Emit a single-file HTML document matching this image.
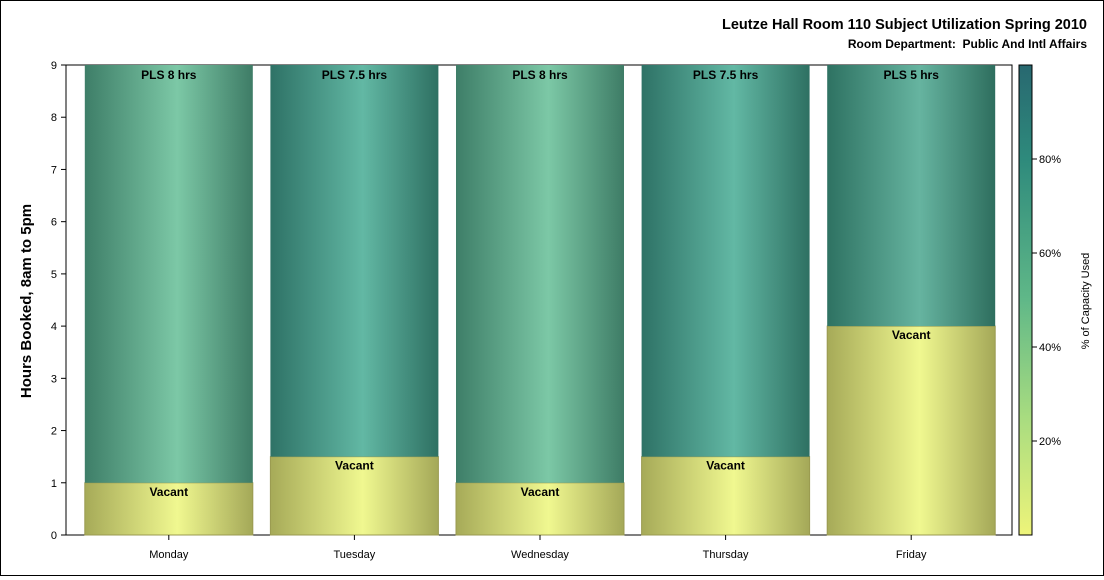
<!DOCTYPE html>
<html><head><meta charset="utf-8"><style>
body{margin:0;background:#fff;font-family:"Liberation Sans",sans-serif}
#wrap{position:relative;width:1102px;height:574px;border:1px solid #000}
</style></head><body>
<div id="wrap">
<svg id="svg" width="1102" height="574" xmlns="http://www.w3.org/2000/svg" font-family="Liberation Sans, sans-serif">
<defs>
<linearGradient id="gy" x1="0" x2="1" y1="0" y2="0"><stop offset="0" stop-color="#a6aa58"/><stop offset="0.55" stop-color="#f0f890"/><stop offset="1" stop-color="#a4a858"/></linearGradient>
<linearGradient id="g0" x1="0" x2="1"><stop offset="0" stop-color="#3e7e68"/><stop offset="0.55" stop-color="#7cc8a6"/><stop offset="1" stop-color="#3e7c66"/></linearGradient>
<linearGradient id="g1" x1="0" x2="1"><stop offset="0" stop-color="#2e7266"/><stop offset="0.55" stop-color="#62b8a4"/><stop offset="1" stop-color="#2e7062"/></linearGradient>
<linearGradient id="g2" x1="0" x2="1"><stop offset="0" stop-color="#2e7262"/><stop offset="0.55" stop-color="#66b4a0"/><stop offset="1" stop-color="#2e6e5e"/></linearGradient>
<linearGradient id="legGrad" x1="0" x2="0" y1="1" y2="0"><stop offset="0" stop-color="#eef47a"/><stop offset="0.25" stop-color="#a8dc80"/><stop offset="0.5" stop-color="#60b888"/><stop offset="0.8" stop-color="#2e8a7c"/><stop offset="1" stop-color="#286870"/></linearGradient>
</defs>
<text x="1086" y="28" text-anchor="end" font-size="14.5" font-weight="bold">Leutze Hall Room 110 Subject Utilization Spring 2010</text>
<text x="1086" y="47" text-anchor="end" font-size="12" font-weight="bold" xml:space="preserve">Room Department:&#160; Public And Intl Affairs</text>
<text transform="translate(30,300) rotate(-90)" text-anchor="middle" font-size="15" font-weight="bold">Hours Booked, 8am to 5pm</text>
<rect x="65" y="64" width="946" height="470" fill="none" stroke="#000"/>
<g id="bars"></g><g id="axes"></g>
<rect x="1018" y="64" width="13" height="470" fill="url(#legGrad)" stroke="#000"/>
<g id="legTicks"></g>
<text transform="translate(1088,300) rotate(-90)" text-anchor="middle" font-size="11">% of Capacity Used</text>
</svg></div>
<script>
const days=["Monday","Tuesday","Wednesday","Thursday","Friday"];
const vacant=[1,1.5,1,1.5,4];
const booked=[8,7.5,8,7.5,5];
const bookedLabels=["PLS 8 hrs","PLS 7.5 hrs","PLS 8 hrs","PLS 7.5 hrs","PLS 5 hrs"];
const yTicks=[0,1,2,3,4,5,6,7,8,9];
const legTicks=[20,40,60,80];
const fills=["url(#g0)","url(#g1)","url(#g0)","url(#g1)","url(#g2)"];
const NS="http://www.w3.org/2000/svg";
const xs=75,xw=928,y0=534,ph=470,ymax=9;
const y=v=>y0-v/ymax*ph;
const band=xw/days.length, bw=168;
const xc=i=>xs+band*(i+0.5);
function mk(t,a,p){const e=document.createElementNS(NS,t);for(const k in a)e.setAttribute(k,a[k]);p.appendChild(e);return e;}
const B=document.getElementById('bars'),A=document.getElementById('axes'),L=document.getElementById('legTicks');
days.forEach((d,i)=>{
 const l=xc(i)-bw/2;
 let r=mk('rect',{x:l,y:y(vacant[i]),width:bw,height:y(0)-y(vacant[i]),fill:'url(#gy)',stroke:'#9a9a50'},B);
 
 
 r=mk('rect',{x:l,y:y(vacant[i]+booked[i]),width:bw,height:y(vacant[i])-y(vacant[i]+booked[i]),fill:fills[i]},B);
 
 
 let t=mk('text',{x:xc(i),y:y(vacant[i])+13,'text-anchor':'middle','font-size':12,'font-weight':'bold'},B);t.textContent='Vacant';
 
 
 t=mk('text',{x:xc(i),y:y(vacant[i]+booked[i])+14,'text-anchor':'middle','font-size':12,'font-weight':'bold'},B);t.textContent=bookedLabels[i];
 
 
 mk('line',{x1:xc(i),x2:xc(i),y1:y0,y2:y0+5,stroke:'#000'},A);
 t=mk('text',{x:xc(i),y:557,'text-anchor':'middle','font-size':11},A);t.textContent=d;
 
 
});
yTicks.forEach(v=>{
 mk('line',{x1:60,x2:65,y1:y(v),y2:y(v),stroke:'#000'},A);
 const t=mk('text',{x:56,y:y(v)+4,'text-anchor':'end','font-size':11},A);t.textContent=v;
 
 
});
legTicks.forEach(v=>{
 const yy=y0-v/100*ph;
 mk('line',{x1:1031,x2:1036,y1:yy,y2:yy,stroke:'#000'},L);
 const t=mk('text',{x:1038,y:yy+4,'font-size':11},L);t.textContent=v+'%';
 
 
});
</script>
</body></html>
